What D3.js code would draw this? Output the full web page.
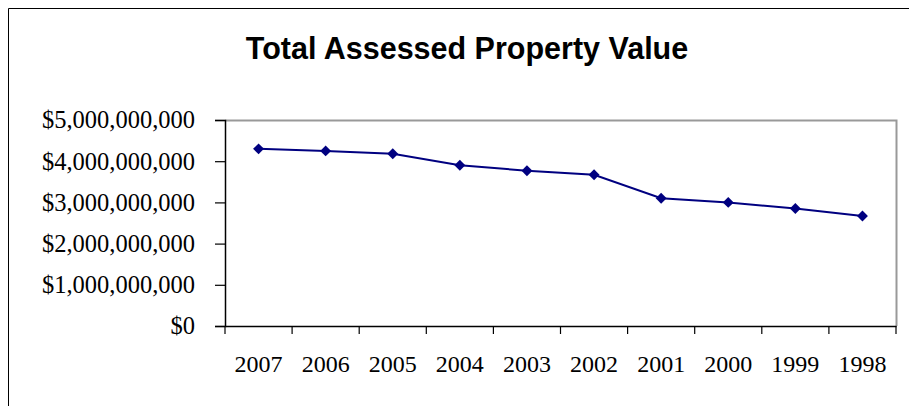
<!DOCTYPE html>
<html><head><meta charset="utf-8">
<script src="https://cdn.jsdelivr.net/npm/d3@7"></script>
<style>body{margin:0;background:#fff}svg{display:block}</style>
</head><body>
<svg id="c" width="909" height="406"></svg>
<script>
const years = ["2007","2006","2005","2004","2003","2002","2001","2000","1999","1998"];
const values = [4.30e9, 4.25e9, 4.18e9, 3.90e9, 3.77e9, 3.67e9, 3.10e9, 3.00e9, 2.85e9, 2.67e9];
const yTicks = [0, 1e9, 2e9, 3e9, 4e9, 5e9];
const title = "Total Assessed Property Value";

const svg = d3.select("#c");
const L = 225, R = 896, T = 120, B = 326;

// outer frame
svg.append("path").attr("d", "M8.5,406 V8.5 H909").attr("fill","none").attr("stroke","#000").attr("stroke-width",1);

svg.append("text").attr("x", 467).attr("y", 59).attr("text-anchor","middle")
  .attr("font-family","Liberation Sans, Arial, sans-serif").attr("font-weight","bold")
  .attr("font-size", 30.5).text(title);

const x = d3.scaleBand().domain(years).range([L, R]);
const y = d3.scaleLinear().domain([0, 5e9]).range([B, T]);

// plot border (gray top/right)
svg.append("path").attr("d", `M${L},${T+0.5} H${R+0.5} V${B}`).attr("fill","none").attr("stroke","#999").attr("stroke-width",2);

const fmt = v => "$" + d3.format(",")(v);
const yAxis = svg.append("g").attr("transform", `translate(${L},0)`)
  .call(d3.axisLeft(y).tickValues(yTicks).tickFormat(fmt).tickSizeOuter(0).tickSize(10).tickPadding(20));
yAxis.select(".domain").attr("stroke","#000").attr("stroke-width",1.5);
yAxis.selectAll(".tick line").attr("stroke-width",1.2);
yAxis.selectAll("text").attr("font-family","Liberation Serif, Times New Roman, serif").attr("font-size",24.5).attr("fill","#000");

const xAxis = svg.append("g").attr("transform", `translate(0,${B})`)
  .call(d3.axisBottom(x).tickSize(0).tickSizeOuter(0).tickPadding(29));
xAxis.select(".domain").attr("stroke","#000").attr("stroke-width",1.5);
xAxis.selectAll("text").attr("font-family","Liberation Serif, Times New Roman, serif").attr("font-size",24).attr("fill","#000");
// boundary ticks
const bounds = years.map(d => x(d)).concat([x(years[years.length-1]) + x.bandwidth()]);
xAxis.selectAll("line.b").data(bounds).enter().append("line")
  .attr("x1", d => d).attr("x2", d => d).attr("y1", 0).attr("y2", 8).attr("stroke","#000").attr("stroke-width",1.2);

const cx = d => x(d) + x.bandwidth()/2;
const line = d3.line().x((d,i) => cx(years[i])).y(d => y(d));
svg.append("path").datum(values).attr("d", line).attr("fill","none").attr("stroke","#000080").attr("stroke-width",2);

svg.selectAll("path.m").data(values).enter().append("path")
  .attr("transform", (d,i) => `translate(${cx(years[i])},${y(d)})`)
  .attr("d", d3.symbol().type(d3.symbolDiamond2).size(76))
  .attr("fill","#000080");
</script>
</body></html>
